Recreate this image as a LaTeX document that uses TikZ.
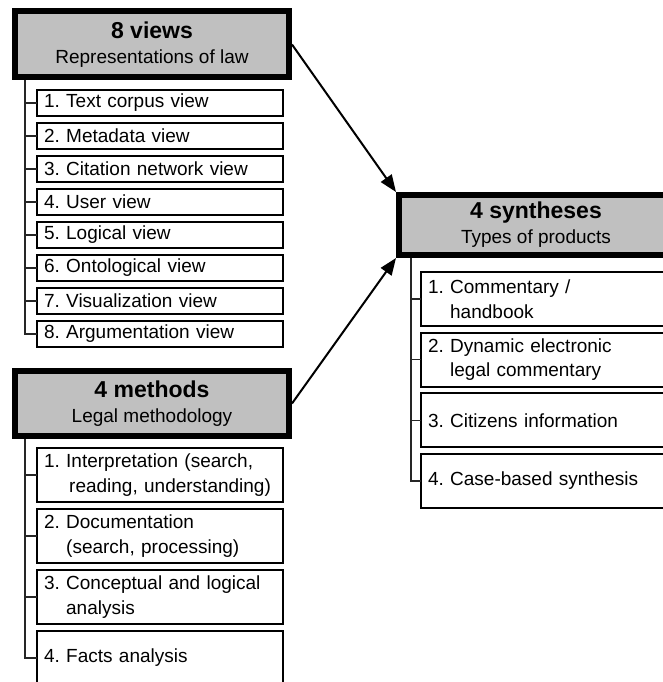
\documentclass[tikz,border=0pt]{standalone}
\usepackage{fontspec}
\setmainfont{Liberation Sans}
\usetikzlibrary{arrows.meta}
\definecolor{headgray}{RGB}{192,192,192}
\frenchspacing
\hyphenpenalty=10000
\begin{document}
\begin{tikzpicture}[x=1pt,y=-1pt,
  head/.style={draw=black, fill=headgray, line width=6pt, outer sep=3pt,
    minimum width=274pt, align=center, inner sep=0pt,
    font=\fontsize{19}{25}\selectfont},
  item/.style={draw=black, line width=1.8pt, outer sep=0pt, anchor=north west,
    inner xsep=7pt, inner ysep=0pt, align=left,
    font=\fontsize{19}{24.5}\selectfont},
  tree/.style={line width=1.2pt, draw=black!85},
  link/.style={line width=2pt, -{Triangle[length=17pt,width=13pt]}}
]
\useasboundingbox (0,0) rectangle (663,682);

% heading boxes
\node[head, minimum height=66pt] (views) at (152,44.5)
  {{\fontsize{23}{25}\selectfont\bfseries 8 views}\\Representations of law};
\node[head, minimum height=65pt] (methods) at (152,403.5)
  {{\fontsize{23}{25}\selectfont\bfseries 4 methods}\\Legal methodology};
\node[head, minimum height=60pt] (syn) at (536,225)
  {{\fontsize{23}{25}\selectfont\bfseries 4 syntheses}\\Types of products};

% views items
\foreach \i/\t in {1/Text corpus view, 2/Metadata view, 3/Citation network view,
  4/User view, 5/Logical view, 6/Ontological view, 7/Visualization view,
  8/Argumentation view}
  \node[item, text width=232pt, minimum height=26pt] (v\i) at (37,{90+33*(\i-1)}) {\i. \t};

% methods items
\node[item, text width=232pt, minimum height=54pt] (m1) at (37,448)
  {1. Interpretation (search,\\\hphantom{1. }\hspace{3pt}reading, understanding)};
\node[item, text width=232pt, minimum height=54pt] (m2) at (37,509)
  {2. Documentation\\\hphantom{2. }(search, processing)};
\node[item, text width=232pt, minimum height=54pt] (m3) at (37,570)
  {3. Conceptual and logical\\\hphantom{3. }analysis};
\node[item, text width=232pt, minimum height=54pt] (m4) at (37,631)
  {4. Facts analysis};

% syntheses items
\node[item, text width=250pt, minimum height=54pt] (s1) at (421,272)
  {1. Commentary /\\\hphantom{1. }handbook};
\node[item, text width=250pt, minimum height=54pt] (s2) at (421,332.7)
  {2. Dynamic electronic\\\hphantom{2. }legal commentary};
\node[item, text width=250pt, minimum height=54pt] (s3) at (421,393.3)
  {3. Citizens information};
\node[item, text width=250pt, minimum height=54pt] (s4) at (421,454)
  {4. Case-based synthesis};

% tree lines
\coordinate (vt) at (25,0);
\coordinate (st) at (411,0);
\draw[tree] (views.south -| vt) |- (v8.west);
\foreach \i in {1,...,7} \draw[tree] (v\i.west) -- (v\i.west -| vt);
\draw[tree] (methods.south -| vt) |- (m4.west);
\foreach \i in {1,2,3} \draw[tree] (m\i.west) -- (m\i.west -| vt);
\draw[tree] (syn.south -| st) |- (s4.west);
\foreach \i in {1,2,3} \draw[tree] (s\i.west) -- (s\i.west -| st);

% arrows
\draw[link] (views.east) -- (syn.north west);
\draw[link] (methods.east) -- (syn.south west);
\end{tikzpicture}
\end{document}
